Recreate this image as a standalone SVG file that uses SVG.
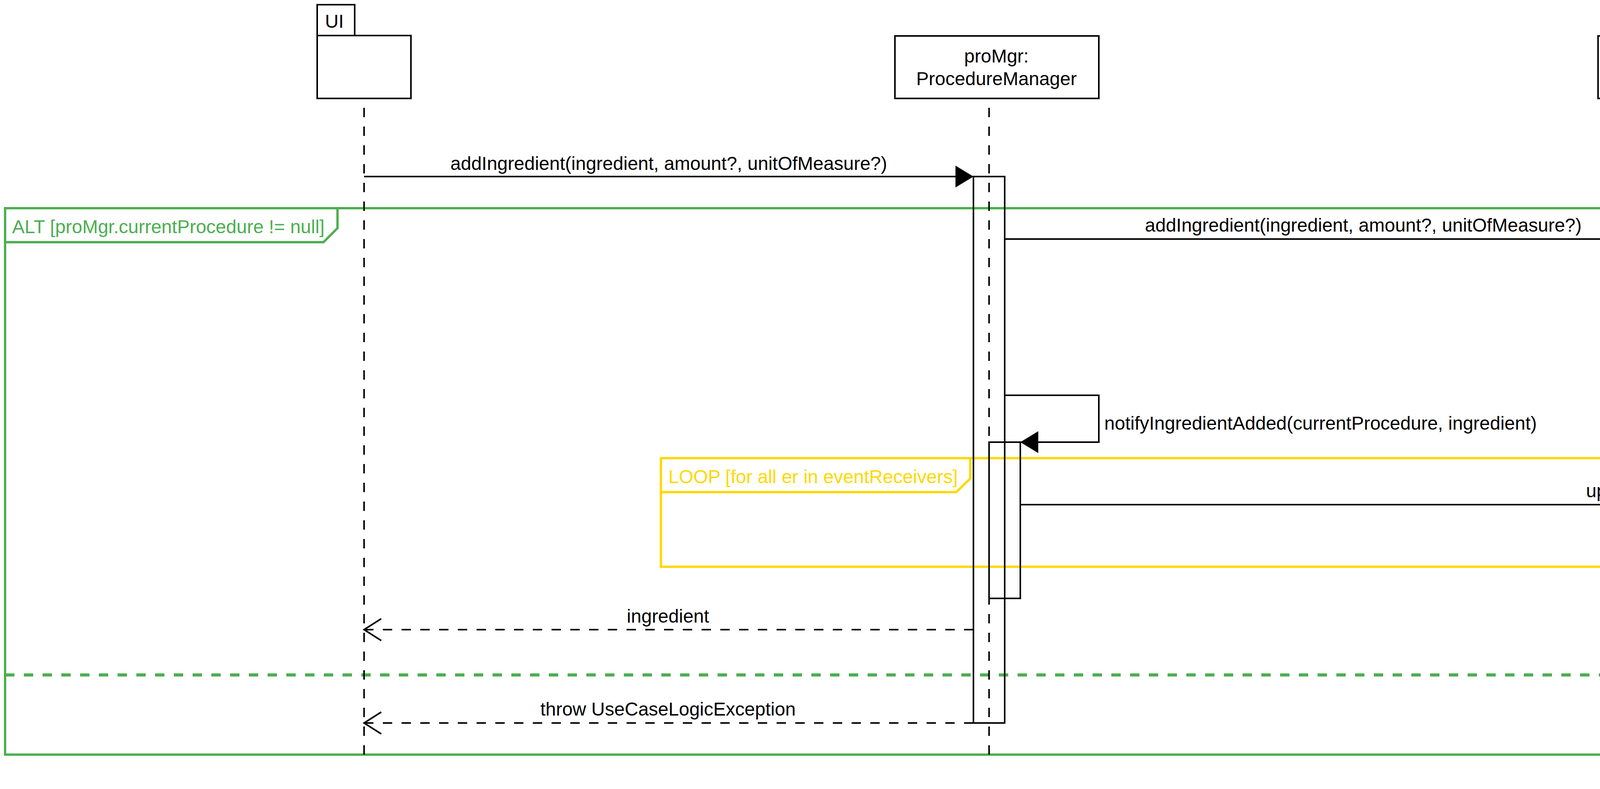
<svg xmlns="http://www.w3.org/2000/svg" width="7100" height="2020" viewBox="0 0 7100 2020">
<style>
text{font-family:"Liberation Sans",Arial,Helvetica,sans-serif;font-size:48px;fill:#000}
.box{fill:#fff;stroke:#000;stroke-width:4}
.act{fill:none;stroke:#000;stroke-width:4}
.life{stroke:#000;stroke-width:4;stroke-dasharray:24 24;fill:none}
.msg{stroke:#000;stroke-width:4;fill:none}
.ret{stroke:#000;stroke-width:4;fill:none;stroke-dasharray:24 24}
.mid{text-anchor:middle}
.alt{fill:none;stroke:#4CAF50;stroke-width:6}
.loop{fill:none;stroke:#FFD800;stroke-width:6}
.tg{fill:#4CAF50}
.ty{fill:#FFD800}
.note{fill:#fff;stroke:#9900FF;stroke-width:4}
.tp{fill:#9900FF}
</style>
<defs>
<marker id="block" markerUnits="userSpaceOnUse" orient="auto" refX="0" refY="0" markerWidth="50" markerHeight="60" overflow="visible">
<path d="M-46,-28 L0,0 L-46,28 Z" fill="#000" stroke="none"/>
</marker>
<marker id="open" markerUnits="userSpaceOnUse" orient="auto" refX="0" refY="0" markerWidth="50" markerHeight="60" overflow="visible">
<path d="M-44,-28 L0,0 L-44,28" fill="none" stroke="#000" stroke-width="4" stroke-dasharray="none"/>
</marker>
</defs>
<rect x="0" y="0" width="7100" height="2020" fill="#fff"/>

<g id="frame-alt">
<rect class="alt" x="13" y="533" width="6838" height="1399"/>
<path class="alt" d="M13,533 H864 V584 L828,620 H13"/>
<text class="tg" x="31" y="597">ALT [proMgr.currentProcedure != null]</text>
<line x1="13" y1="1728" x2="6851" y2="1728" stroke="#4CAF50" stroke-width="8" stroke-dasharray="24 24"/>
</g>

<g id="frame-loop">
<rect class="loop" x="1692" y="1173" width="5080" height="278"/>
<path class="loop" d="M1692,1173 H2484 V1225 L2448,1260 H1692"/>
<text class="ty" x="1711" y="1237">LOOP [for all er in eventReceivers]</text>
</g>

<g id="ui">
<rect class="box" x="812" y="12" width="96" height="79"/>
<rect class="box" x="812" y="91" width="240" height="161"/>
<text x="832" y="71">UI</text>
<line class="life" x1="932" y1="276" x2="932" y2="1932"/>
</g>

<g id="proMgr">
<rect class="box" x="2291" y="92" width="522" height="160"/>
<text class="mid" x="2551" y="160">proMgr:</text>
<text class="mid" x="2551" y="218">ProcedureManager</text>
<line class="life" x1="2532" y1="276" x2="2532" y2="1932"/>
</g>

<g id="currentProcedure">
<rect class="box" x="4091" y="92" width="721" height="160"/>
<text class="mid" x="4451" y="160">proMgr.currentProcedure:</text>
<text class="mid" x="4451" y="218">Procedure</text>
<line class="life" x1="4452" y1="252" x2="4452" y2="930"/>
</g>

<g id="ingredients">
<rect class="box" x="5291" y="92" width="960" height="160"/>
<text class="mid" x="5771" y="160">currentProcedure.Ingredients:</text>
<text class="mid" x="5771" y="218">HashMap&lt;Ingredient, Tuple&lt;Float, String&gt;</text>
<line class="life" x1="5732" y1="252" x2="5732" y2="852"/>
</g>

<g id="eventReceiver">
<rect class="box" x="6331" y="92" width="760" height="160"/>
<text class="mid" x="6704" y="160">er: ProcedureEventReceiver:</text>
<text class="mid" x="6710" y="218">Procedure</text>
<line class="life" x1="6691" y1="252" x2="6691" y2="1372"/>
</g>

<g id="activations">
<rect class="act" x="2492" y="452" width="80" height="1399"/>
<rect class="act" x="2532" y="1132" width="80" height="400"/>
<rect class="act" x="4412" y="612" width="80" height="318"/>
<rect class="act" x="5692" y="772" width="80" height="80"/>
<rect class="act" x="6651" y="1292" width="80" height="80"/>
</g>

<g id="note">
<path class="note" d="M4568,812 H5560 L5608,860 V932 H4568 Z"/>
<path class="note" d="M5560,812 V860 H5608" fill="none"/>
<text class="tp" x="4587" y="876">both amount and unitOfMeasure are nullable</text>
</g>

<g id="connectors">
<line class="msg" x1="932" y1="452" x2="2492" y2="452" marker-end="url(#block)"/>
<text class="mid" x="1712" y="435">addIngredient(ingredient, amount?, unitOfMeasure?)</text>

<line class="msg" x1="2572" y1="612" x2="4412" y2="612" marker-end="url(#block)"/>
<text class="mid" x="3490" y="593">addIngredient(ingredient, amount?, unitOfMeasure?)</text>

<line class="msg" x1="4492" y1="772" x2="5694" y2="772" marker-end="url(#block)"/>
<text class="mid" x="5097" y="753">put(ingredient, new Tuple(amount, unitOfMeasure))</text>

<path class="msg" d="M2572,1012 H2813 V1132 H2612" marker-end="url(#block)"/>
<text x="2827" y="1100">notifyIngredientAdded(currentProcedure, ingredient)</text>

<line class="msg" x1="2612" y1="1292" x2="6651" y2="1292" marker-end="url(#block)"/>
<text class="mid" x="4630" y="1273">updateIngredientAdded(currentProcedure, ingredient)</text>

<line class="ret" x1="2492" y1="1612" x2="932" y2="1612" marker-end="url(#open)"/>
<text class="mid" x="1710" y="1594">ingredient</text>

<line class="ret" x1="2492" y1="1851" x2="932" y2="1851" marker-end="url(#open)"/>
<text class="mid" x="1710" y="1832">throw UseCaseLogicException</text>
</g>
</svg>
